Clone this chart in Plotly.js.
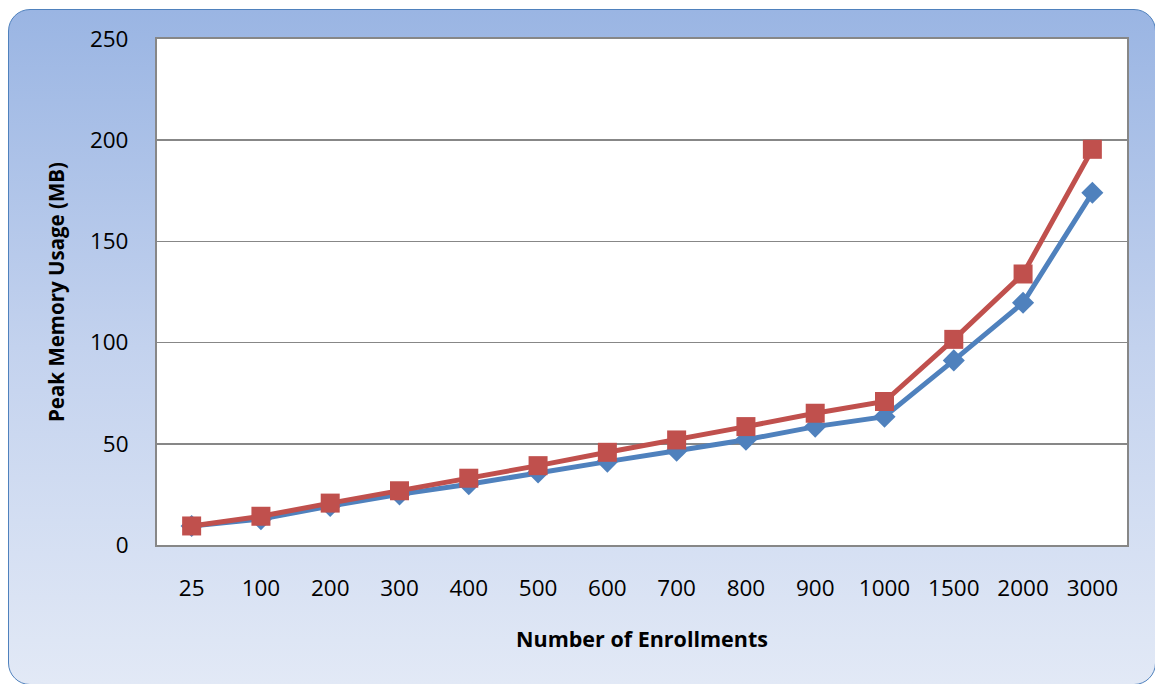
<!DOCTYPE html>
<html>
<head>
<meta charset="utf-8">
<script src="https://cdn.plot.ly/plotly-3.0.1.min.js"></script>
<style>
  html, body { margin: 0; padding: 0; background: #ffffff; }
  #bg {
    position: absolute; left: 8px; top: 9px; width: 1148px; height: 676px;
    box-sizing: border-box;
    border: 1.5px solid #4F81BD; border-radius: 22px;
    background: linear-gradient(to bottom, #9AB5E3 0%, #C3D2EE 50%, #E2E9F6 100%);
  }
  #chart { position: absolute; left: 0; top: 0; width: 1155px; height: 684px; }
</style>
</head>
<body>
<div id="bg"></div>
<div id="chart"></div>
<script>
const categories = ["25", "100", "200", "300", "400", "500", "600", "700", "800", "900", "1000", "1500", "2000", "3000"];
const seriesBlue = [9.4, 12.8, 19.3, 25, 30, 35.8, 41.2, 46.6, 52, 58.5, 63.4, 91.2, 119.7, 174];
const seriesRed  = [9.4, 14.2, 20.7, 26.8, 33, 39.2, 45.8, 51.9, 58.5, 65.1, 70.9, 101.6, 133.9, 195.5];
const yTicks = [0, 50, 100, 150, 200, 250];

const font = "'Open Sans', 'DejaVu Sans', sans-serif";

const traces = [
  {
    x: categories, y: seriesBlue, type: 'scatter', mode: 'lines+markers', name: 'Series 1',
    line: { color: '#4F81BD', width: 5 },
    marker: { symbol: 'diamond', size: 17, color: '#4F81BD' },
    hoverinfo: 'x+y'
  },
  {
    x: categories, y: seriesRed, type: 'scatter', mode: 'lines+markers', name: 'Series 2',
    line: { color: '#C0504D', width: 5 },
    marker: { symbol: 'square', size: 19, color: '#C0504D' },
    hoverinfo: 'x+y'
  }
];

const layout = {
  width: 1155, height: 684,
  margin: { l: 157, r: 28, t: 39, b: 139 },
  paper_bgcolor: 'rgba(0,0,0,0)',
  plot_bgcolor: '#ffffff',
  showlegend: false,
  font: { family: font, color: '#000000', size: 22 },
  xaxis: {
    type: 'category',
    tickvals: categories, ticktext: categories,
    range: [-0.5, categories.length - 0.5],
    showgrid: false, zeroline: false,
    showline: true, mirror: true, linecolor: '#878787', linewidth: 2,
    ticks: '', ticklabelstandoff: 22,
    tickfont: { family: font, size: 22.5, color: '#000' },
    title: { text: '<b>Number of Enrollments</b>', font: { family: font, size: 21.5, color: '#000' }, standoff: 30 }
  },
  yaxis: {
    range: [0, 250], tickvals: yTicks, ticktext: yTicks.map(String),
    showgrid: true, gridcolor: '#878787', gridwidth: 1.5,
    zeroline: false,
    showline: true, mirror: true, linecolor: '#878787', linewidth: 2,
    ticks: '', ticklabelstandoff: 22,
    tickfont: { family: font, size: 22.5, color: '#000' },
    title: { text: '<b>Peak Memory Usage (MB)</b>', font: { family: font, size: 20.5, color: '#000' }, standoff: 20 }
  }
};

Plotly.newPlot('chart', traces, layout, { displayModeBar: false, staticPlot: true });
</script>
</body>
</html>
